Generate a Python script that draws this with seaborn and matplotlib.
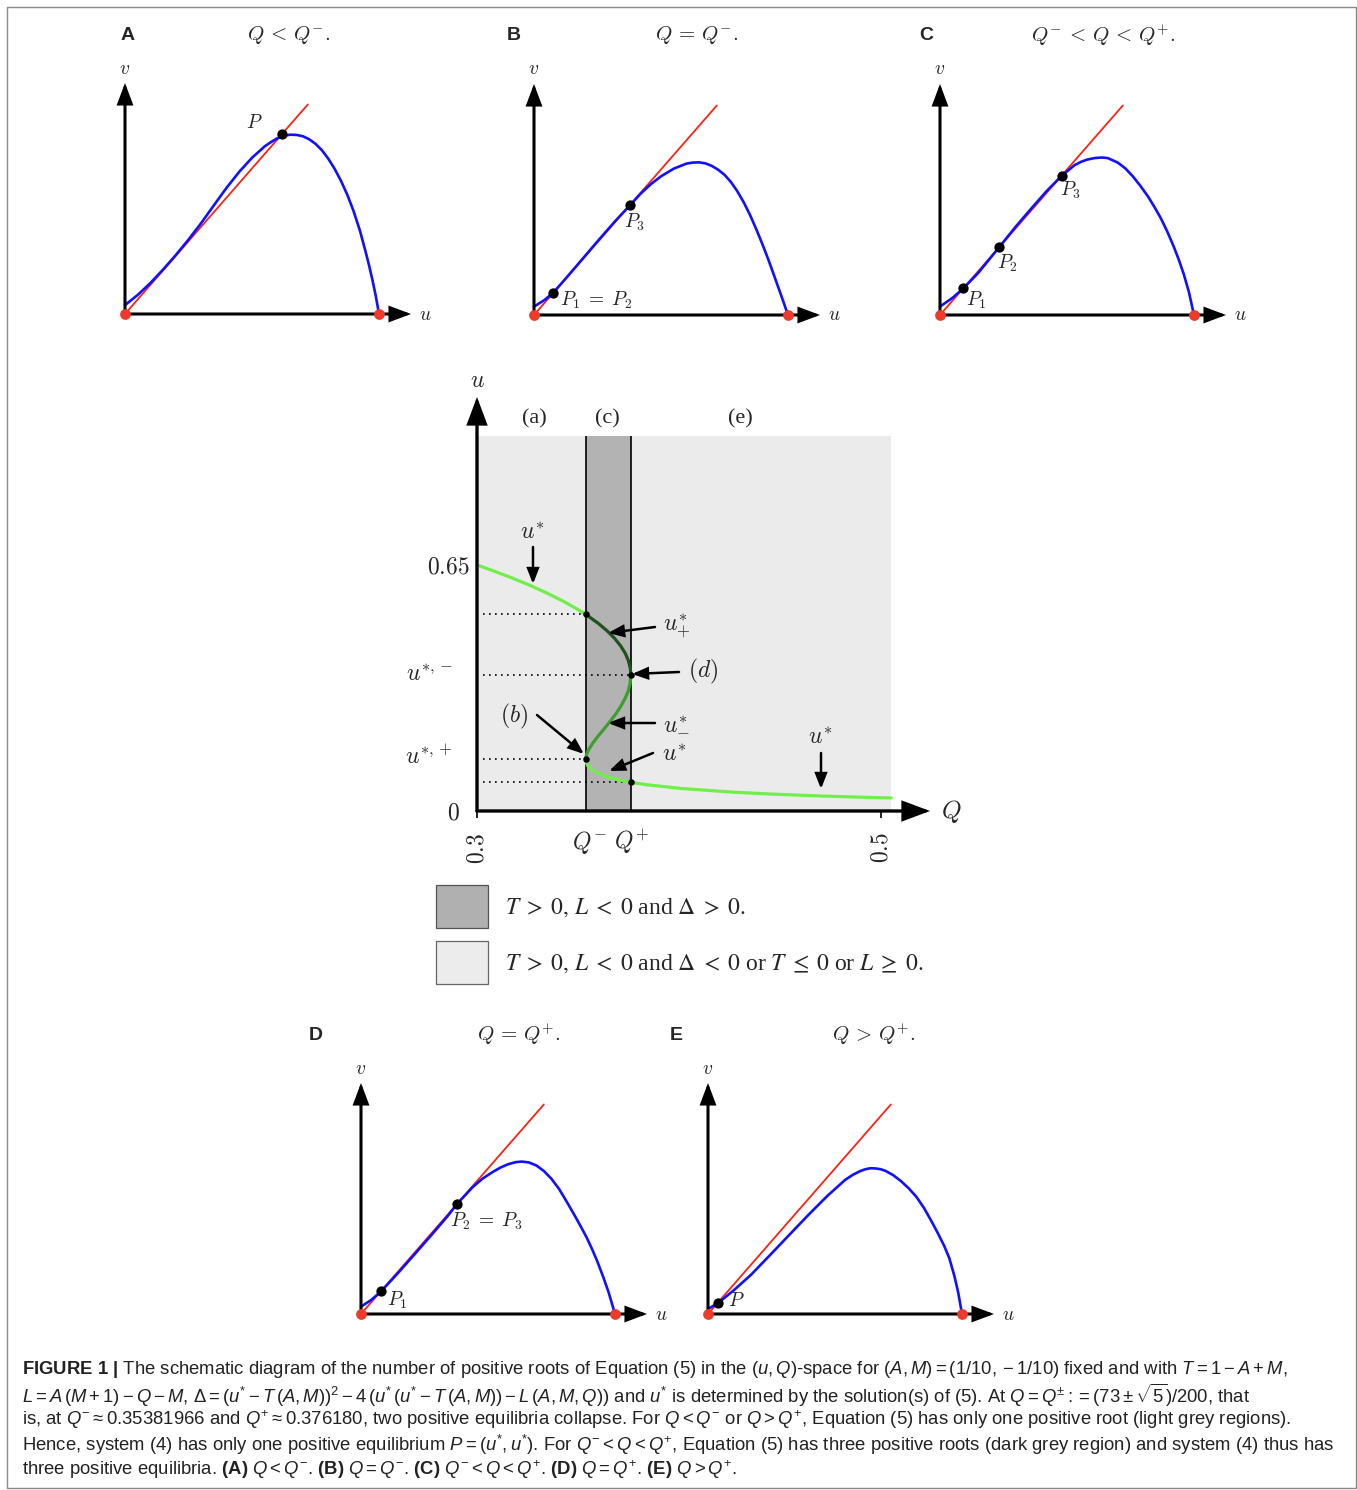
import numpy as np
import pandas as pd
import matplotlib
matplotlib.use("Agg")
import matplotlib.pyplot as plt
import seaborn as sns
from matplotlib.patches import Rectangle
from matplotlib import font_manager

# ---------------- data ----------------
red_line_u = [0.0, 0.72]
red_line_v = [0.0, 0.825]
end_u = [0.0, 1.0]
end_v = [0.0, 0.0]

A_u = [0.00, 0.05, 0.10, 0.15, 0.20, 0.25, 0.30, 0.35, 0.40, 0.45, 0.50, 0.55, 0.575, 0.60, 0.625, 0.65, 0.675, 0.70, 0.725, 0.75, 0.775, 0.80, 0.825, 0.85, 0.875, 0.90, 0.925, 0.95, 0.9625, 0.975, 0.9875, 1.00]
A_v = [0.035, 0.075, 0.122, 0.175, 0.232, 0.293, 0.358, 0.428, 0.497, 0.560, 0.615, 0.660, 0.677, 0.692, 0.701, 0.706, 0.705, 0.700, 0.688, 0.670, 0.645, 0.612, 0.572, 0.525, 0.470, 0.405, 0.328, 0.235, 0.185, 0.130, 0.070, 0.00]
A_eq_u = [0.618]
A_eq_v = [0.707]

B_u = [0.00, 0.04, 0.076, 0.12, 0.18, 0.25, 0.32, 0.378, 0.42, 0.46, 0.50, 0.55, 0.60, 0.625, 0.65, 0.675, 0.70, 0.725, 0.75, 0.775, 0.80, 0.825, 0.85, 0.875, 0.90, 0.925, 0.95, 0.9625, 0.975, 0.9875, 1.00]
B_v = [0.033, 0.058, 0.088, 0.138, 0.208, 0.290, 0.370, 0.432, 0.478, 0.515, 0.546, 0.576, 0.596, 0.600, 0.601, 0.597, 0.587, 0.572, 0.552, 0.524, 0.488, 0.445, 0.395, 0.338, 0.277, 0.212, 0.142, 0.107, 0.072, 0.036, 0.00]
B_eq_u = [0.076, 0.378]
B_eq_v = [0.087, 0.432]

C_u = [0.00, 0.05, 0.092, 0.15, 0.233, 0.30, 0.36, 0.42, 0.479, 0.53, 0.555, 0.58, 0.61, 0.636, 0.66, 0.70, 0.73, 0.76, 0.79, 0.82, 0.845, 0.87, 0.895, 0.92, 0.94, 0.96, 0.98, 1.00]
C_v = [0.033, 0.068, 0.105, 0.165, 0.267, 0.350, 0.420, 0.488, 0.548, 0.590, 0.603, 0.612, 0.618, 0.620, 0.618, 0.600, 0.577, 0.545, 0.507, 0.465, 0.424, 0.380, 0.328, 0.270, 0.218, 0.160, 0.090, 0.00]
C_eq_u = [0.092, 0.233, 0.479]
C_eq_v = [0.105, 0.267, 0.548]

D_u = [0.00, 0.04, 0.078, 0.14, 0.21, 0.28, 0.34, 0.377, 0.44, 0.48, 0.52, 0.55, 0.58, 0.61, 0.633, 0.66, 0.69, 0.72, 0.75, 0.78, 0.81, 0.84, 0.865, 0.888, 0.91, 0.93, 0.954, 0.975, 1.00]
D_v = [0.029, 0.055, 0.088, 0.155, 0.234, 0.314, 0.384, 0.432, 0.500, 0.534, 0.560, 0.577, 0.590, 0.598, 0.600, 0.597, 0.585, 0.563, 0.532, 0.492, 0.442, 0.390, 0.345, 0.302, 0.255, 0.208, 0.145, 0.085, 0.00]
D_eq_u = [0.078, 0.377]
D_eq_v = [0.089, 0.432]

E_u = [0.00, 0.038, 0.10, 0.17, 0.25, 0.33, 0.40, 0.47, 0.54, 0.57, 0.60, 0.62, 0.64, 0.66, 0.68, 0.70, 0.73, 0.76, 0.79, 0.82, 0.85, 0.88, 0.905, 0.93, 0.95, 0.97, 0.985, 1.00]
E_v = [0.020, 0.042, 0.092, 0.155, 0.238, 0.322, 0.395, 0.465, 0.528, 0.548, 0.563, 0.570, 0.574, 0.573, 0.570, 0.563, 0.546, 0.523, 0.495, 0.462, 0.418, 0.365, 0.318, 0.268, 0.220, 0.150, 0.085, 0.00]
E_eq_u = [0.038]
E_eq_v = [0.043]

# bifurcation diagram in the (Q, u) plane
Q_minus = 0.35382
Q_plus = 0.37618
region_Q = [0.30, Q_minus, Q_plus, 0.505]
region_u_top = 1.0

upper_u = [0.6555, 0.64, 0.62, 0.60, 0.58, 0.56, 0.54, 0.524]
upper_Q = [0.3000, 0.3080, 0.3177, 0.3267, 0.3348, 0.3423, 0.3489, 0.3538]
dark_u = [0.524, 0.50, 0.48, 0.46, 0.44, 0.42, 0.40, 0.38, 0.3618]
dark_Q = [0.3538, 0.3600, 0.3644, 0.3681, 0.3711, 0.3734, 0.3750, 0.3759, 0.3762]
mid_u = [0.3618, 0.34, 0.32, 0.30, 0.28, 0.26, 0.24, 0.22, 0.20, 0.18, 0.16, 0.15, 0.1382]
mid_Q = [0.3762, 0.3758, 0.3749, 0.3733, 0.3713, 0.3689, 0.3661, 0.3631, 0.3600, 0.3572, 0.3549, 0.3542, 0.3538]
lower_u = [0.1382, 0.13, 0.12, 0.11, 0.10, 0.09, 0.08, 0.0764, 0.07, 0.06, 0.05, 0.045, 0.04, 0.037, 0.0347]
lower_Q = [0.3538, 0.3540, 0.3549, 0.3568, 0.3600, 0.3650, 0.3726, 0.3762, 0.3840, 0.4011, 0.4275, 0.4462, 0.4704, 0.4885, 0.5050]
crit_Q = [Q_minus, Q_plus, Q_minus, Q_plus]
crit_u = [0.524, 0.3618, 0.1382, 0.0764]

# ---------------- style ----------------
sns.set_theme(style="white")
plt.rcParams["font.family"] = ["DejaVu Sans"]


def has_font(name):
    try:
        font_manager.findfont(font_manager.FontProperties(family=name), fallback_to_default=False)
        return True
    except Exception:
        return False


narrow = has_font("Liberation Sans Narrow")
cap_font = "Liberation Sans Narrow" if narrow else "Liberation Sans"
cap_size = (12.6 if narrow else 10.8) * 1.23
plt.rcParams["mathtext.fontset"] = "custom"
plt.rcParams["mathtext.rm"] = cap_font
plt.rcParams["mathtext.it"] = cap_font + ":italic"
plt.rcParams["mathtext.bf"] = cap_font + ":bold"

W, H = 1357, 1490
fig = plt.figure(figsize=(W / 100, H / 100), dpi=100)
fig.patch.set_facecolor("white")

BLUE = "#1010ff"
RED = "#ff2014"
REDDOT = "#ee3a2a"
CM = dict(math_fontfamily="cm")


def ftext(x, y, s, **kw):
    fig.text(x / W, 1 - y / H, s, **kw)


def arrow(ax, start, tip, lw, hl, hw, ms=10):
    ax.annotate("", xy=tip, xytext=start,
                arrowprops=dict(arrowstyle=f"-|>,head_length={hl},head_width={hw}",
                                lw=lw, color="black", mutation_scale=ms,
                                shrinkA=0, shrinkB=0, joinstyle="miter"))


UNIT = 254.0


def phase_panel(ox, oy, cu, cv, eu, ev, labels, letter, letter_xy, title, title_xy):
    left, right, top, bottom = ox - 40, ox + 330, oy - 265, oy + 25
    ax = fig.add_axes([left / W, 1 - bottom / H, (right - left) / W, (bottom - top) / H])
    ax.set_xlim(-40 / UNIT, 330 / UNIT)
    ax.set_ylim(-25 / UNIT, 265 / UNIT)
    arrow(ax, (0, 0), (0, 231 / UNIT), 2.2, 1.2, 0.45)
    arrow(ax, (0, 0), (286 / UNIT, 0), 2.2, 1.2, 0.45)
    ax.text(0, 246 / UNIT, r"$v$", fontsize=14, ha="center", va="center", **CM)
    ax.text(300 / UNIT, 0, r"$u$", fontsize=14, ha="center", va="center", **CM)
    sns.lineplot(data=pd.DataFrame({"u": red_line_u, "v": red_line_v}), x="u", y="v", ax=ax,
                 color=RED, linewidth=1.3, sort=False, estimator=None, legend=False)
    sns.lineplot(data=pd.DataFrame({"u": cu, "v": cv}), x="u", y="v", ax=ax,
                 color=BLUE, linewidth=1.9, sort=False, estimator=None, legend=False)
    sns.scatterplot(data=pd.DataFrame({"u": end_u, "v": end_v}), x="u", y="v", ax=ax,
                    color=REDDOT, s=60, linewidth=0, zorder=6, legend=False)
    sns.scatterplot(data=pd.DataFrame({"u": eu, "v": ev}), x="u", y="v", ax=ax,
                    color="black", s=55, linewidth=0, zorder=6, legend=False)
    for s, x, y, ha in labels:
        ax.text((x - ox) / UNIT, (oy - y) / UNIT, s, fontsize=14, ha=ha, va="center", **CM)
    ax.axis("off")
    ftext(letter_xy[0], letter_xy[1], letter, fontsize=14, fontweight="bold",
          family="Liberation Sans", ha="center", va="center")
    ftext(title_xy[0], title_xy[1], title, fontsize=15, ha="center", va="center", **CM)


phase_panel(125, 314, A_u, A_v, A_eq_u, A_eq_v,
            [(r"$P$", 254, 123, "center")], "A", (128, 35), r"$Q\,<\,Q^{-}.$", (289, 35))
phase_panel(534, 315, B_u, B_v, B_eq_u, B_eq_v,
            [(r"$P_3$", 624, 222, "left"), (r"$P_1\;=\;P_2$", 560, 300, "left")],
            "B", (514, 35), r"$Q\,=\,Q^{-}.$", (697, 35))
phase_panel(940, 315, C_u, C_v, C_eq_u, C_eq_v,
            [(r"$P_1$", 966, 300, "left"), (r"$P_2$", 997, 263, "left"), (r"$P_3$", 1060, 190, "left")],
            "C", (926, 35), r"$Q^{-}\,<\,Q\,<\,Q^{+}.$", (1103, 35))
phase_panel(361, 1314, D_u, D_v, D_eq_u, D_eq_v,
            [(r"$P_1$", 387, 1300, "left"), (r"$P_2\;=\;P_3$", 450, 1221, "left")],
            "D", (316, 1036), r"$Q\,=\,Q^{+}.$", (519, 1034))
phase_panel(708, 1314, E_u, E_v, E_eq_u, E_eq_v,
            [(r"$P$", 728, 1300, "left")],
            "E", (676, 1036), r"$Q\,>\,Q^{+}.$", (874, 1034))

# ---------------- middle bifurcation panel ----------------
QX, UY = 2020.0, 375.4


def qp(x):
    return 0.3 + (x - 477) / QX


def up(y):
    return (811 - y) / UY


ml, mr, mt, mb = 395, 985, 365, 870
axm = fig.add_axes([ml / W, 1 - mb / H, (mr - ml) / W, (mb - mt) / H])
axm.set_xlim(qp(ml), qp(mr))
axm.set_ylim(up(mb), up(mt))

axm.add_patch(Rectangle((region_Q[0], 0), region_Q[3] - region_Q[0], region_u_top,
                        facecolor="#ebebeb", edgecolor="none", zorder=0))
axm.add_patch(Rectangle((region_Q[1], 0), region_Q[2] - region_Q[1], region_u_top,
                        facecolor="#b3b3b3", edgecolor="none", zorder=0))
axm.vlines([region_Q[1], region_Q[2]], 0, region_u_top, color="black", lw=1.2, zorder=2)

crit_df = pd.DataFrame({"Q": crit_Q, "u": crit_u})
axm.hlines(crit_df["u"], qp(483), crit_df["Q"], colors="black", lw=1.2,
           linestyles=(0, (1, 2.6)), zorder=2)

for qq, uu, col in [(upper_Q, upper_u, "#70ee4a"), (dark_Q, dark_u, "#1f521f"),
                    (mid_Q, mid_u, "#3c9e2c"), (lower_Q, lower_u, "#70ee4a")]:
    sns.lineplot(data=pd.DataFrame({"Q": qq, "u": uu}), x="Q", y="u", ax=axm, color=col,
                 linewidth=2.3, sort=False, estimator=None, legend=False, zorder=3)
sns.scatterplot(data=crit_df, x="Q", y="u", ax=axm, color="black", s=22, linewidth=0,
                zorder=5, legend=False)

arrow(axm, (0.3, 0), (0.3, up(397)), 2.4, 1.6, 0.6)
arrow(axm, (0.3, 0), (qp(930), 0), 2.4, 1.6, 0.6)
axm.vlines([0.3, 0.5], up(818), 0, color="black", lw=1.2)

F = 17
axm.text(0.3, up(380), r"$u$", fontsize=F, ha="center", va="center", **CM)
axm.text(qp(951), 0, r"$Q$", fontsize=F + 1, ha="center", va="center", **CM)
axm.text(qp(470), up(567), r"$0.65$", fontsize=F, ha="right", va="center", **CM)
axm.text(qp(453), up(674), r"$u^{*,-}$", fontsize=F, ha="right", va="center", **CM)
axm.text(qp(453), up(757), r"$u^{*,+}$", fontsize=F, ha="right", va="center", **CM)
axm.text(qp(460), up(812), r"$0$", fontsize=F, ha="right", va="center", **CM)
axm.text(0.3, up(848), r"$0.3$", fontsize=F, ha="center", va="center", rotation=90, **CM)
axm.text(0.5, up(848), r"$0.5$", fontsize=F, ha="center", va="center", rotation=90, **CM)
axm.text(qp(590), up(842), r"$Q^{-}$", fontsize=F, ha="center", va="center", **CM)
axm.text(qp(632), up(842), r"$Q^{+}$", fontsize=F, ha="center", va="center", **CM)

for s, x in [("(a)", 534), ("(c)", 607), ("(e)", 740)]:
    axm.text(qp(x), up(419), s, fontsize=16, ha="center", va="center", family="Liberation Serif")

axm.text(qp(532), up(532), r"$u^{*}$", fontsize=F, ha="center", va="center", **CM)
arrow(axm, (qp(533), up(547)), (qp(533), up(584)), 1.8, 0.9, 0.35)
axm.text(qp(663), up(627), r"$u^{*}_{+}$", fontsize=F, ha="left", va="center", **CM)
arrow(axm, (qp(655), up(627)), (qp(608), up(633)), 1.8, 0.9, 0.35)
axm.text(qp(688), up(671), r"$(d)$", fontsize=F, ha="left", va="center", **CM)
arrow(axm, (qp(679), up(672)), (qp(632), up(674)), 1.8, 0.9, 0.35)
axm.text(qp(663), up(722), r"$u^{*}_{-}$", fontsize=F, ha="left", va="center", **CM)
arrow(axm, (qp(655), up(723)), (qp(608), up(723)), 1.8, 0.9, 0.35)
axm.text(qp(514), up(716), r"$(b)$", fontsize=F, ha="center", va="center", **CM)
arrow(axm, (qp(537), up(715)), (qp(584), up(754)), 1.8, 0.9, 0.35)
axm.text(qp(662), up(754), r"$u^{*}$", fontsize=F, ha="left", va="center", **CM)
arrow(axm, (qp(653), up(753)), (qp(609), up(771)), 1.8, 0.9, 0.35)
axm.text(qp(820), up(737), r"$u^{*}$", fontsize=F, ha="center", va="center", **CM)
arrow(axm, (qp(821), up(753)), (qp(821), up(789)), 1.8, 0.9, 0.35)
axm.axis("off")

# ---------------- legend ----------------
fig.add_artist(Rectangle((436 / W, 1 - 928 / H), 52 / W, 43 / H, transform=fig.transFigure,
                         facecolor="#b0b0b0", edgecolor="#555555", lw=0.9))
fig.add_artist(Rectangle((436 / W, 1 - 984 / H), 52 / W, 43 / H, transform=fig.transFigure,
                         facecolor="#ececec", edgecolor="#666666", lw=0.9))
ftext(505, 908, r"$T\;>\;0,\,L\;<\;0$ and $\Delta\;>\;0.$", fontsize=17, family="Liberation Serif",
      math_fontfamily="stix", ha="left", va="center")
ftext(505, 964, r"$T\;>\;0,\,L\;<\;0$ and $\Delta\;<\;0$ or $T\;\leq\;0$ or $L\;\geq\;0.$", fontsize=17,
      family="Liberation Serif", math_fontfamily="stix", ha="left", va="center")

# ---------------- caption ----------------
cap = [
    r"$\mathbf{FIGURE\ 1\ |}$ The schematic diagram of the number of positive roots of Equation (5) in the $(u,Q)$-space for $(A,M)=(1/10,-1/10)$ fixed and with $T=1-A+M$,",
    r"$L=A\,(M+1)-Q-M$, $\Delta=(u^{*}-T\,(A,M))^{2}-4\,(u^{*}\,(u^{*}-T\,(A,M))-L\,(A,M,Q))$ and $u^{*}$ is determined by the solution(s) of (5). At $Q=Q^{\pm}:=(73\pm\sqrt{5})/200$, that",
    r"is, at $Q^{-}\approx0.35381966$ and $Q^{+}\approx0.376180$, two positive equilibria collapse. For $Q<Q^{-}$ or $Q>Q^{+}$, Equation (5) has only one positive root (light grey regions).",
    r"Hence, system (4) has only one positive equilibrium $P=(u^{*},u^{*})$. For $Q^{-}<Q<Q^{+}$, Equation (5) has three positive roots (dark grey region) and system (4) thus has",
    r"three positive equilibria. $\mathbf{(A)}$ $Q<Q^{-}$. $\mathbf{(B)}$ $Q=Q^{-}$. $\mathbf{(C)}$ $Q^{-}<Q<Q^{+}$. $\mathbf{(D)}$ $Q=Q^{+}$. $\mathbf{(E)}$ $Q>Q^{+}$.",
]
for i, line in enumerate(cap):
    ftext(22, 1370 + 25 * i, line, fontsize=cap_size, family=cap_font, color="#222222",
          ha="left", va="center", math_fontfamily="custom")

fig.add_artist(Rectangle((7 / W, 1 - 1488 / H), (1356 - 7) / W, (1488 - 7) / H,
                         transform=fig.transFigure, fill=False, edgecolor="#8a8a8a", lw=1.0))

fig.savefig("out.png", dpi=100)
